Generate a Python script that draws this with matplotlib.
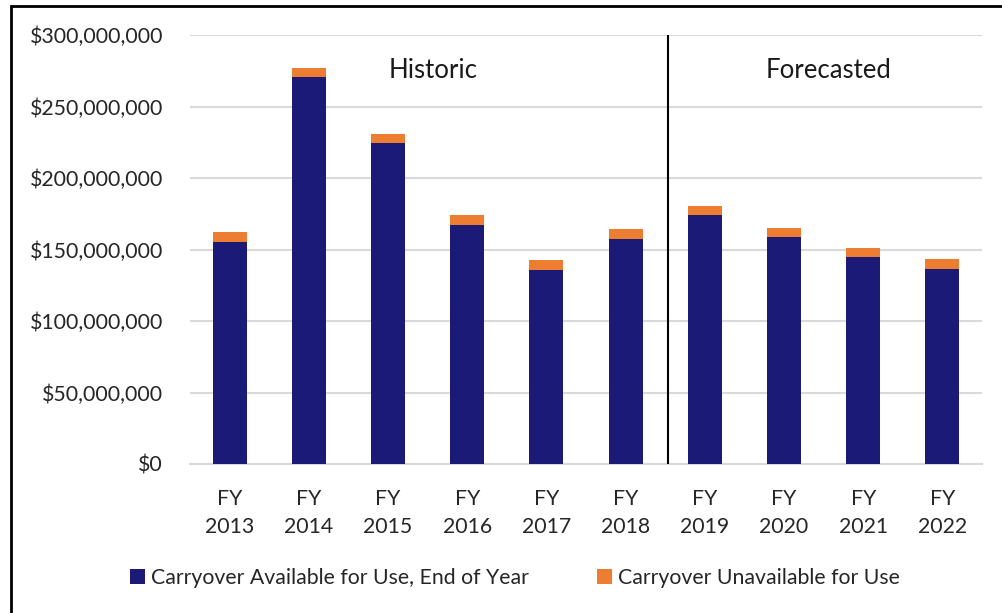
import matplotlib.pyplot as plt
from matplotlib.patches import Rectangle
from matplotlib.ticker import FuncFormatter
import numpy as np

years = ['FY\n2013', 'FY\n2014', 'FY\n2015', 'FY\n2016', 'FY\n2017',
         'FY\n2018', 'FY\n2019', 'FY\n2020', 'FY\n2021', 'FY\n2022']
disponible = [155.5, 270.8, 224.2, 166.9, 135.7, 157.1, 174.1, 159.0, 144.5, 136.6]
no_disponible = [6.9, 6.3, 6.3, 7.2, 7.0, 7.0, 6.3, 6.3, 6.3, 7.0]
ticks = [0, 50, 100, 150, 200, 250, 300]

plt.rcParams['font.family'] = ['Lato', 'DejaVu Sans']

fig = plt.figure(figsize=(10.02, 6.13), dpi=100)
ax = fig.add_axes([190 / 1002, 1 - 464 / 613, 792 / 1002, 429 / 613])

x = np.arange(len(years))
disp = np.array(disponible) * 1e6
nodisp = np.array(no_disponible) * 1e6
ax.bar(x, disp, width=0.43, color='#1B1A77', label='Carryover Available for Use, End of Year', zorder=3)
ax.bar(x, nodisp, width=0.43, bottom=disp, color='#ED7D31', label='Carryover Unavailable for Use', zorder=3)

ax.set_xlim(-0.5, len(years) - 0.5)
ax.set_ylim(0, 300e6)
ax.set_yticks([t * 1e6 for t in ticks])
ax.yaxis.set_major_formatter(FuncFormatter(lambda v, p: '${:,.0f}'.format(v)))
ax.set_xticks(x)
ax.set_xticklabels(years, linespacing=1.5)
ax.tick_params(axis='y', length=0, pad=19.5, labelsize=15.3, labelcolor='#262626')
ax.tick_params(axis='x', length=0, pad=18, labelsize=15.3, labelcolor='#262626')
ax.grid(axis='y', color='#D9D9D9', linewidth=1.5, zorder=0)
for s in ['top', 'right', 'left']:
    ax.spines[s].set_visible(False)
ax.spines['bottom'].set_color('#D9D9D9')
ax.spines['bottom'].set_linewidth(1.5)

# separacion historico / pronostico
ax.axvline(5.53, color='black', linewidth=1.5, zorder=4)
ax.text(2.57, 275.5e6, 'Historic', ha='center', va='center', fontsize=18.5, color='#1a1a1a')
ax.text(7.56, 275.5e6, 'Forecasted', ha='center', va='center', fontsize=18.5, color='#1a1a1a')

fig.legend(loc='center', bbox_to_anchor=(0.514, 0.057), ncol=2, frameon=False,
           fontsize=15.3, handlelength=0.7, handleheight=0.7, handletextpad=0.3,
           columnspacing=3.2, labelcolor='#262626')

fig.patches.append(Rectangle((11 / 1002, -0.1), 1.2, 1.1 - 6 / 613,
                             transform=fig.transFigure, fill=False,
                             edgecolor='black', linewidth=2, clip_on=False))

plt.savefig('out.png', dpi=100)
